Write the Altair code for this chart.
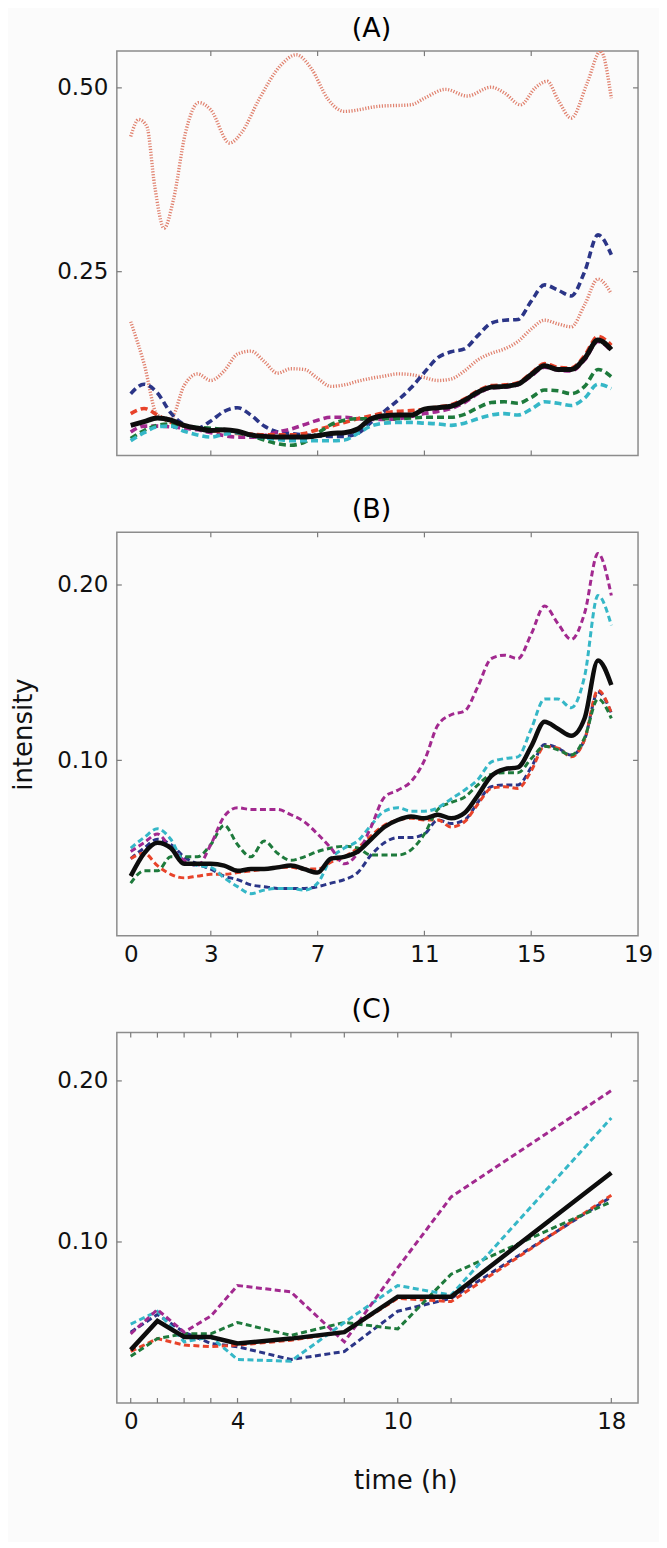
import altair as alt
import pandas as pd

# ---------------- data ----------------
T = [i * 0.5 for i in range(37)]  # 0 .. 18 h

# Panel A (smoothed, all cells)
A_dot_hi_t = [0, 0.3, 0.6, 0.9, 1.25, 1.6, 2.05, 2.55, 3.0, 3.7, 4.15, 4.8, 5.6, 6.2, 6.75,
              7.4, 8.0, 9.3, 10.5, 11.0, 11.8, 12.6, 13.5, 14.0, 14.6, 15.15, 15.6, 16.0,
              16.5, 17.1, 17.6, 18.0]
A_dot_hi = [0.434, 0.457, 0.448, 0.366, 0.309, 0.348, 0.439, 0.480, 0.470, 0.425, 0.439, 0.484,
            0.530, 0.545, 0.527, 0.484, 0.468, 0.475, 0.477, 0.486, 0.498, 0.489, 0.501, 0.493,
            0.477, 0.500, 0.509, 0.484, 0.459, 0.507, 0.550, 0.486]
A_dot_lo = [0.182, 0.125, 0.055, 0.050, 0.095, 0.111, 0.102, 0.115, 0.138, 0.142, 0.128, 0.112,
            0.118, 0.117, 0.105, 0.094, 0.096, 0.101, 0.105, 0.108, 0.111, 0.110, 0.106, 0.102,
            0.104, 0.115, 0.130, 0.139, 0.145, 0.155, 0.172, 0.184, 0.179, 0.175, 0.205, 0.240,
            0.220]
A_blue = [0.084, 0.097, 0.085, 0.058, 0.042, 0.037, 0.047, 0.060, 0.065, 0.055, 0.040, 0.032,
          0.030, 0.028, 0.027, 0.026, 0.026, 0.030, 0.045, 0.060, 0.075, 0.092, 0.113, 0.133,
          0.141, 0.145, 0.163, 0.180, 0.184, 0.185, 0.210, 0.232, 0.225, 0.217, 0.250, 0.300,
          0.273]
A_red = [0.057, 0.064, 0.055, 0.045, 0.040, 0.037, 0.034, 0.032, 0.030, 0.029, 0.028, 0.028,
         0.028, 0.030, 0.035, 0.040, 0.045, 0.050, 0.054, 0.058, 0.060, 0.061, 0.063, 0.066,
         0.069, 0.077, 0.088, 0.095, 0.096, 0.099, 0.112, 0.125, 0.120, 0.119, 0.136, 0.162,
         0.150]
A_green = [0.023, 0.034, 0.041, 0.043, 0.040, 0.038, 0.037, 0.035, 0.031, 0.027, 0.021, 0.016,
           0.014, 0.018, 0.030, 0.042, 0.048, 0.050, 0.050, 0.050, 0.050, 0.051, 0.052, 0.052,
           0.052, 0.056, 0.065, 0.072, 0.073, 0.071, 0.079, 0.089, 0.088, 0.084, 0.094, 0.117,
           0.107]
A_magenta = [0.032, 0.040, 0.040, 0.039, 0.037, 0.035, 0.031, 0.027, 0.025, 0.025, 0.027, 0.032,
             0.036, 0.042, 0.048, 0.052, 0.052, 0.050, 0.049, 0.049, 0.050, 0.053, 0.057, 0.060,
             0.064, 0.072, 0.084, 0.092, 0.093, 0.096, 0.108, 0.120, 0.116, 0.115, 0.130, 0.155,
             0.142]
A_cyan = [0.020, 0.031, 0.039, 0.040, 0.033, 0.028, 0.025, 0.029, 0.031, 0.027, 0.024, 0.022,
          0.020, 0.020, 0.020, 0.020, 0.021, 0.030, 0.040, 0.044, 0.045, 0.045, 0.044, 0.043,
          0.041, 0.044, 0.050, 0.055, 0.057, 0.055, 0.063, 0.073, 0.071, 0.068, 0.078, 0.097,
          0.091]
A_black = [0.041, 0.046, 0.051, 0.048, 0.041, 0.037, 0.034, 0.035, 0.033, 0.028, 0.026, 0.025,
           0.025, 0.025, 0.027, 0.030, 0.031, 0.036, 0.050, 0.054, 0.055, 0.055, 0.063, 0.065,
           0.067, 0.075, 0.086, 0.093, 0.094, 0.097, 0.110, 0.122, 0.117, 0.117, 0.132, 0.157,
           0.144]

# Panel B (smoothed, selected cells)
B_magenta = [0.048, 0.053, 0.058, 0.050, 0.043, 0.040, 0.052, 0.068, 0.073, 0.072, 0.072, 0.072,
             0.069, 0.065, 0.058, 0.050, 0.041, 0.047, 0.062, 0.079, 0.083, 0.088, 0.100, 0.120,
             0.126, 0.128, 0.142, 0.158, 0.160, 0.158, 0.172, 0.188, 0.178, 0.169, 0.184, 0.218,
             0.194]
B_cyan = [0.050, 0.056, 0.061, 0.055, 0.042, 0.040, 0.039, 0.033, 0.028, 0.024, 0.026, 0.027,
          0.027, 0.026, 0.030, 0.044, 0.050, 0.054, 0.063, 0.071, 0.073, 0.071, 0.071, 0.073,
          0.078, 0.083, 0.089, 0.099, 0.101, 0.102, 0.118, 0.135, 0.135, 0.130, 0.148, 0.194,
          0.177]
B_red = [0.044, 0.047, 0.040, 0.035, 0.033, 0.034, 0.035, 0.035, 0.036, 0.037, 0.038, 0.039,
         0.039, 0.038, 0.038, 0.042, 0.045, 0.050, 0.057, 0.063, 0.066, 0.067, 0.066, 0.066,
         0.062, 0.065, 0.075, 0.084, 0.085, 0.084, 0.094, 0.108, 0.107, 0.102, 0.112, 0.140,
         0.127]
B_green = [0.030, 0.037, 0.037, 0.045, 0.045, 0.045, 0.052, 0.063, 0.052, 0.045, 0.054, 0.047,
           0.043, 0.045, 0.048, 0.050, 0.051, 0.050, 0.046, 0.046, 0.046, 0.049, 0.058, 0.072,
           0.076, 0.079, 0.086, 0.092, 0.093, 0.093, 0.101, 0.108, 0.106, 0.103, 0.113, 0.135,
           0.124]
B_blue = [0.044, 0.050, 0.055, 0.052, 0.045, 0.041, 0.038, 0.034, 0.032, 0.029, 0.028, 0.027,
          0.027, 0.027, 0.028, 0.030, 0.032, 0.036, 0.046, 0.053, 0.056, 0.056, 0.058, 0.066,
          0.064, 0.066, 0.076, 0.085, 0.086, 0.086, 0.096, 0.109, 0.107, 0.103, 0.112, 0.139,
          0.127]
B_black = [0.034, 0.047, 0.053, 0.050, 0.041, 0.041, 0.041, 0.040, 0.037, 0.038, 0.038, 0.039,
           0.040, 0.038, 0.036, 0.044, 0.045, 0.048, 0.055, 0.062, 0.066, 0.068, 0.067, 0.069,
           0.067, 0.070, 0.080, 0.091, 0.095, 0.096, 0.108, 0.122, 0.118, 0.114, 0.124, 0.157,
           0.143]

# Panel C (sampled time points)
C_T = [0, 1, 2, 3, 4, 6, 8, 10, 12, 18]
C_magenta = [0.043, 0.058, 0.044, 0.054, 0.073, 0.069, 0.038, 0.084, 0.128, 0.194]
C_cyan = [0.049, 0.057, 0.038, 0.041, 0.027, 0.026, 0.050, 0.073, 0.067, 0.177]
C_green = [0.029, 0.040, 0.043, 0.043, 0.050, 0.042, 0.050, 0.046, 0.080, 0.125]
C_red = [0.032, 0.040, 0.036, 0.035, 0.036, 0.039, 0.044, 0.065, 0.063, 0.129]
C_blue = [0.044, 0.055, 0.044, 0.037, 0.035, 0.027, 0.032, 0.057, 0.065, 0.128]
C_black = [0.033, 0.051, 0.041, 0.041, 0.037, 0.040, 0.044, 0.066, 0.066, 0.143]

# axis ticks / labels
AB_XTICKS = [3, 7, 11, 15]
B_XLABELS = [0, 3, 7, 11, 15, 19]
C_XTICKS = [0, 1, 2, 3, 4, 6, 8, 10, 12, 18]
C_XLABELS = [0, 4, 10, 18]
A_YTICKS = [0.25, 0.50]
BC_YTICKS = [0.10, 0.20]

# ---------------- styles ----------------
COL = {"blue": "#2b3587", "red": "#e8432a", "green": "#1e7a3c", "magenta": "#a2298f",
       "cyan": "#35b7c7", "black": "#0d0d0d", "dot": "#e0826f"}
FONT = "DejaVu Sans"
BG = "#fbfbfb"
W = 522
XDOM = [-0.52, 19.0]
TICKC = "#7a7a7a"
TL = 5


def frame_df(times, vals):
    return pd.DataFrame({"t": times, "v": vals})


def line(times, vals, color, dash, width, xenc, yenc, interp):
    kw = dict(color=color, strokeWidth=width, interpolate=interp, clip=True)
    if dash:
        kw["strokeDash"] = dash
    return alt.Chart(frame_df(times, vals)).mark_line(**kw).encode(x=xenc, y=yenc)


def ticks(xt, yt, H, xenc_t, yenc_t):
    out = []
    dx = pd.DataFrame({"t": xt})
    dy = pd.DataFrame({"v": yt})
    for y0, y1 in [(H - TL, H), (0, TL)]:
        out.append(alt.Chart(dx).mark_rule(color=TICKC, strokeWidth=1.2).encode(
            x=xenc_t, y=alt.value(y0), y2=alt.value(y1)))
    for x0, x1 in [(0, TL), (W - TL, W)]:
        out.append(alt.Chart(dy).mark_rule(color=TICKC, strokeWidth=1.2).encode(
            y=yenc_t, x=alt.value(x0), x2=alt.value(x1)))
    return out


def panel(series, times_default, ydom, H, title, xaxis, yaxis, xt, yt, interp):
    xs = alt.Scale(domain=XDOM, nice=False, zero=False)
    ys = alt.Scale(domain=ydom, nice=False, zero=False)
    xenc = alt.X("t:Q", scale=xs, axis=xaxis)
    yenc = alt.Y("v:Q", scale=ys, axis=yaxis)
    layers = []
    for (times, vals, color, dash, width) in series:
        layers.append(line(times if times is not None else times_default, vals, color, dash,
                           width, xenc, yenc, interp))
    layers += ticks(xt, yt, H, alt.X("t:Q", scale=xs, axis=xaxis), alt.Y("v:Q", scale=ys, axis=yaxis))
    return alt.layer(*layers).properties(
        width=W, height=H,
        title=alt.TitleParams(title, fontSize=27, font=FONT, fontWeight="normal", offset=8,
                              anchor="middle", dx=-6))


yax_common = dict(ticks=False, domain=False, grid=False, format=".2f", labelFontSize=23,
                  labelFont=FONT, labelColor="#111", labelPadding=9)

# Panel A
dash_a = [7, 4]
seriesA = [
    (A_dot_hi_t, A_dot_hi, COL["dot"], [1.2, 1.6], 3.4),
    (None, A_dot_lo, COL["dot"], [1.2, 1.6], 3.4),
    (None, A_blue, COL["blue"], dash_a, 3.6),
    (None, A_magenta, COL["magenta"], dash_a, 3.6),
    (None, A_red, COL["red"], dash_a, 3.6),
    (None, A_green, COL["green"], dash_a, 3.6),
    (None, A_cyan, COL["cyan"], dash_a, 3.6),
    (None, A_black, COL["black"], None, 5.0),
]
chartA = panel(seriesA, T, [0, 0.55], 405, "(A)", None,
               alt.Axis(values=A_YTICKS, title=None, **yax_common),
               AB_XTICKS, A_YTICKS, "monotone")

# Panel B
dash_b = [6, 3.5]
seriesB = [
    (None, B_blue, COL["blue"], dash_b, 3.0),
    (None, B_red, COL["red"], dash_b, 3.0),
    (None, B_green, COL["green"], dash_b, 3.0),
    (None, B_cyan, COL["cyan"], dash_b, 3.0),
    (None, B_magenta, COL["magenta"], dash_b, 3.0),
    (None, B_black, COL["black"], None, 4.5),
]
chartB = panel(seriesB, T, [0, 0.23], 404, "(B)",
               alt.Axis(values=B_XLABELS, format="d", ticks=False, domain=False, grid=False,
                        labelFontSize=23, labelFont=FONT, labelColor="#111", labelPadding=8,
                        title=None, labelFlush=False),
               alt.Axis(values=BC_YTICKS, title="intensity", titleFontSize=26, titleFont=FONT,
                        titleFontWeight="normal", titlePadding=20, titleColor="#111",
                        **yax_common),
               AB_XTICKS, BC_YTICKS, "monotone")

# Panel C
seriesC = [
    (None, C_blue, COL["blue"], dash_b, 3.0),
    (None, C_red, COL["red"], dash_b, 3.0),
    (None, C_green, COL["green"], dash_b, 3.0),
    (None, C_cyan, COL["cyan"], dash_b, 3.0),
    (None, C_magenta, COL["magenta"], dash_b, 3.0),
    (None, C_black, COL["black"], None, 4.5),
]
chartC = panel(seriesC, C_T, [0, 0.23], 371, "(C)",
               alt.Axis(values=C_XLABELS, format="d", ticks=False, domain=False, grid=False,
                        labelFontSize=23, labelFont=FONT, labelColor="#111", labelPadding=8,
                        title="time (h)", titleFontSize=26, titleFont=FONT,
                        titleFontWeight="normal", titlePadding=34, titleColor="#111",
                        titleX=289, labelFlush=False),
               alt.Axis(values=BC_YTICKS, title=None, **yax_common),
               C_XTICKS, BC_YTICKS, "linear")

top = alt.vconcat(chartA, chartB, spacing=37)
chart = alt.vconcat(top, chartC, spacing=27).properties(
    padding={"left": 2, "top": 4, "right": 5, "bottom": 46},
    background=BG,
).configure_view(
    stroke="#8c8c8c", strokeWidth=1.5, fill=BG
)

chart.save("out.html", embed_options={"renderer": "svg", "actions": False})
